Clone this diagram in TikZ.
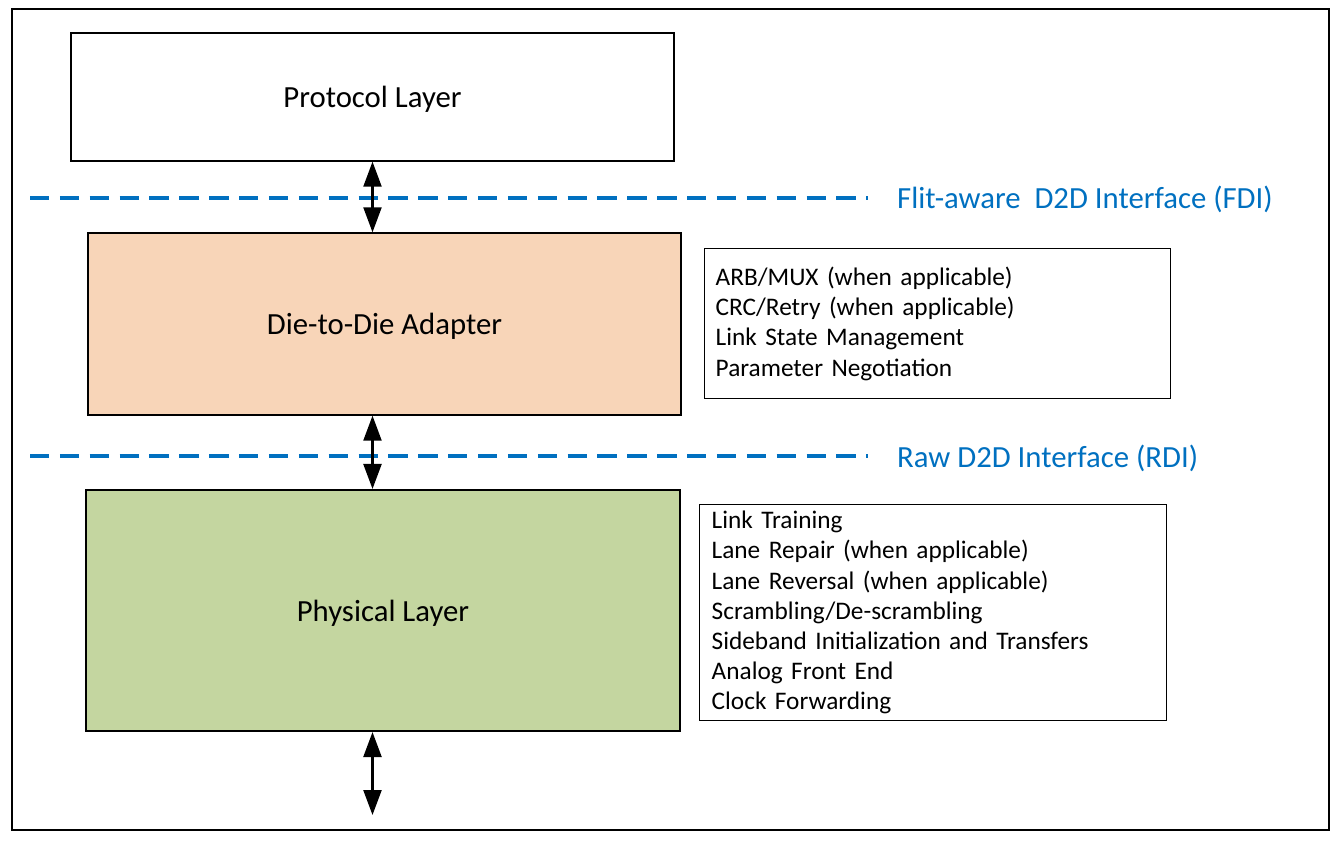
\documentclass[tikz,border=0pt]{standalone}
\usepackage{fontspec}
\setmainfont{Carlito}
\usepackage{tikz}
\usetikzlibrary{arrows.meta,calc,positioning}
\definecolor{adapterfill}{HTML}{F8D5B8}
\definecolor{physfill}{HTML}{C4D6A0}
\definecolor{ifblue}{HTML}{0070C0}
\begin{document}
\begin{tikzpicture}[x=0.02cm,y=-0.02cm,
  layerbox/.style={draw=black,line width=0.8pt,text depth=0pt,font=\fontsize{17.5}{21}\selectfont},
  listbox/.style={draw=black,line width=0.8pt,align=left,anchor=north west,font=\fontsize{14.4}{17.2}\selectfont},
  ifline/.style={ifblue,line width=2pt,dash pattern=on 11pt off 6pt},
  iflabel/.style={ifblue,anchor=west,font=\fontsize{17.5}{21}\selectfont},
  updown/.style={{Triangle[length=0.5cm,width=0.36cm]}-{Triangle[length=0.5cm,width=0.36cm]},line width=1.3pt}]
%Rahmen und Bildgroesse in Pixeln
\useasboundingbox (0,0) rectangle (1340,841);
\draw[line width=0.7pt] (12,9) rectangle (1329,830);
%Schichten
\node[layerbox,fill=white,minimum width=603*0.02cm,minimum height=128*0.02cm] (proto) at (372.5,97) {Protocol Layer};
\node[layerbox,fill=adapterfill,minimum width=593*0.02cm,minimum height=182*0.02cm] (adapter) at (384.5,324) {Die-to-Die Adapter};
\node[layerbox,fill=physfill,line width=1.2pt,minimum width=594*0.02cm,minimum height=241*0.02cm] (phys) at (383,610.5) {Physical Layer};
%Listen rechts
\node[listbox,text width=444*0.02cm,inner xsep=11*0.02cm,minimum height=150*0.02cm] (adlist) at (704,248) {ARB/MUX (when applicable)\\CRC/Retry (when applicable)\\Link State Management\\Parameter Negotiation};
\node[listbox,text width=443*0.02cm,inner xsep=12*0.02cm,minimum height=216*0.02cm] (phlist) at (699,504) {Link Training\\Lane Repair (when applicable)\\Lane Reversal (when applicable)\\Scrambling/De-scrambling\\Sideband Initialization and Transfers\\Analog Front End\\Clock Forwarding};
%Schnittstellen
\node[iflabel] (fdi) at (891,199) {Flit-aware\ \ D2D Interface (FDI)};
\node[iflabel] (rdi) at (891,458) {Raw D2D Interface (RDI)};
\coordinate (fdistart) at (30,198);
\coordinate (rdistart) at (30,456);
\draw[ifline] (fdistart) -- (868,198);
\draw[ifline] (rdistart) -- (868,456);
%Pfeile
\coordinate (bottom) at (372.5,815);
\draw[updown] (proto.south) -- (proto.south |- adapter.north);
\draw[updown] (adapter.south -| proto.south) -- (proto.south |- phys.north);
\draw[updown] (phys.south -| proto.south) -- (bottom);
\end{tikzpicture}
\end{document}
